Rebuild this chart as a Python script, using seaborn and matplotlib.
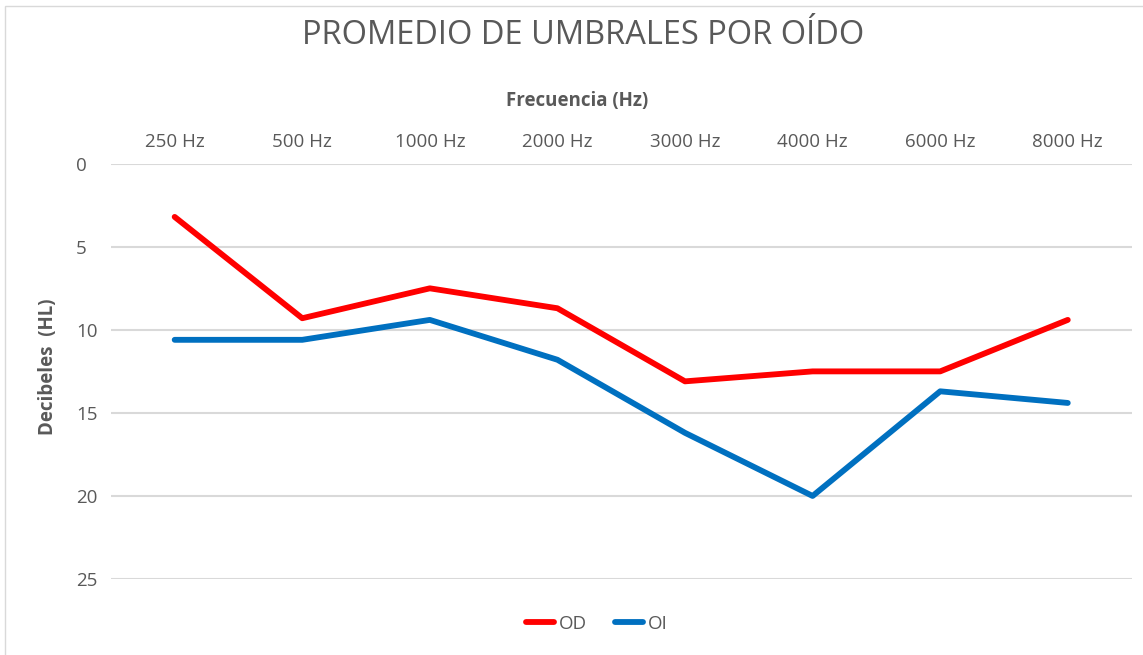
import pandas as pd
import seaborn as sns
import matplotlib.pyplot as plt
from matplotlib.patches import Rectangle

# datos
frecuencias = ["250 Hz", "500 Hz", "1000 Hz", "2000 Hz", "3000 Hz", "4000 Hz", "6000 Hz", "8000 Hz"]
od = [3.2, 9.3, 7.5, 8.7, 13.1, 12.5, 12.5, 9.4]
oi = [10.6, 10.6, 9.4, 11.8, 16.2, 20.0, 13.7, 14.4]
yticks = [0, 5, 10, 15, 20, 25]

df = pd.DataFrame({
    "Frecuencia": frecuencias * 2,
    "dB": od + oi,
    "Oído": ["OD"] * len(od) + ["OI"] * len(oi),
})

sns.set_style("white")
plt.rcParams['font.family'] = ['Open Sans', 'DejaVu Sans']
gris = "#595959"

fig = plt.figure(figsize=(11.43, 6.55), dpi=100)
ax = fig.add_axes([0.097, 0.116, 0.893, 0.634])

sns.lineplot(data=df, x="Frecuencia", y="dB", hue="Oído",
             palette={"OD": "#FF0000", "OI": "#0070C0"},
             linewidth=4.2, sort=False, ax=ax)

ax.set_xlim(-0.5, len(frecuencias) - 0.5)
ax.set_ylim(25, 0)
ax.set_yticks(yticks, labels=[str(v) for v in yticks], ha="left")
ax.yaxis.grid(True, color="#D9D9D9", linewidth=1.5)
ax.set_axisbelow(True)
for s in ax.spines.values():
    s.set_visible(False)

ax.xaxis.tick_top()
ax.tick_params(axis="both", length=0, labelsize=13.5, labelcolor=gris)
ax.tick_params(axis="x", pad=9)
ax.tick_params(axis="y", pad=25)

ax.set_xlabel("")
ax.set_ylabel("")
ax.text(0.457, 1.152, "Frecuencia (Hz)", transform=ax.transAxes, ha="center", va="center",
        fontsize=13.5, fontweight="bold", color=gris)
ax.text(-0.062, 0.51, "Decibeles  (HL)", transform=ax.transAxes, ha="center", va="center",
        rotation=90, fontsize=13.5, fontweight="bold", color=gris)

fig.text(0.51, 0.946, "PROMEDIO DE UMBRALES POR OÍDO", ha="center", va="center",
         fontsize=23.5, color=gris)

leg = ax.legend(loc="center", bbox_to_anchor=(0.476, -0.108), ncol=2, frameon=False,
                fontsize=13.5, handlelength=1.5, columnspacing=1.5, handletextpad=0.25)
for t in leg.get_texts():
    t.set_color(gris)

fig.patches.append(Rectangle((0.004, -0.01), 1.2, 1.001, transform=fig.transFigure,
                             fill=False, edgecolor="#D9D9D9", linewidth=1))

fig.savefig("out.png", dpi=100)
